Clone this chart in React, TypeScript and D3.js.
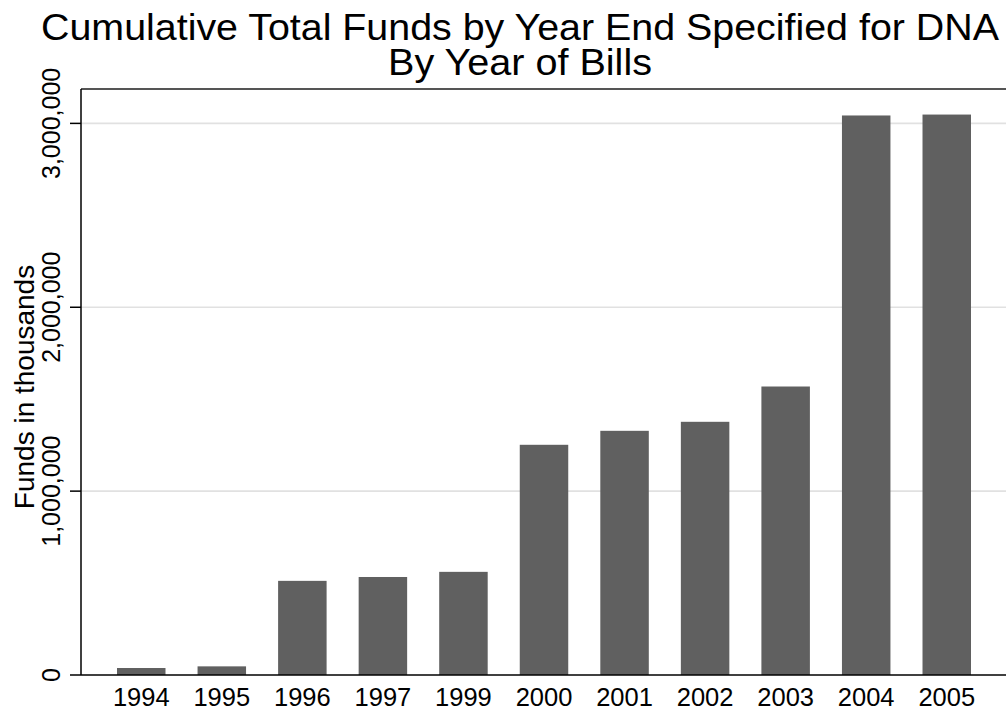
import React from "react";
import * as d3 from "d3";

const years = ["1994", "1995", "1996", "1997", "1999", "2000", "2001", "2002", "2003", "2004", "2005"];
const funds = [38000, 47000, 512000, 533000, 561000, 1252000, 1328000, 1377000, 1569000, 3043000, 3048000];
const yTicks = [0, 1000000, 2000000, 3000000];
const titleLines = ["Cumulative Total Funds by Year End Specified for DNA", "By Year of Bills"];
const yTitle = "Funds in thousands";

const W = 1006;
const H = 715;
const left = 81;
const right = 1007;
const top = 89;
const bottom = 675;

export default function App() {
  const x = d3.scaleBand<string>().domain(years).range([left, right]).paddingInner(0.398).paddingOuter(0.447);
  const y = d3.scaleLinear().domain([0, 3187000]).range([bottom, top]);
  const fmt = d3.format(",");
  const font = "Arial, 'Liberation Sans', Helvetica, sans-serif";
  return (
    <svg width={W} height={H} style={{ position: "absolute", left: 0, top: 0, background: "#fff" }} fontFamily={font}>
      <rect x={0} y={0} width={W} height={H} fill="#fff" />
      {yTicks.filter((t) => t > 0).map((t) => (
        <line key={"g" + t} x1={left} x2={W} y1={y(t)} y2={y(t)} stroke="#e1e1e1" strokeWidth={1.6} />
      ))}
      <line x1={left} x2={W} y1={top} y2={top} stroke="#555" strokeWidth={2} />
      {years.map((yr, i) => (
        <rect key={yr} x={x(yr)} y={y(funds[i])} width={x.bandwidth()} height={bottom - y(funds[i])} fill="#606060" />
      ))}
      <line x1={left} x2={left} y1={top} y2={bottom} stroke="#000" strokeWidth={1.5} />
      <line x1={left} x2={W} y1={bottom} y2={bottom} stroke="#000" strokeWidth={1.5} />
      {yTicks.map((t) => (
        <g key={"t" + t}>
          <line x1={70} x2={left} y1={y(t)} y2={y(t)} stroke="#000" strokeWidth={1.5} />
          <text transform={`translate(60,${y(t)}) rotate(-90)`} textAnchor="middle" fontSize={25} fill="#000">
            {fmt(t)}
          </text>
        </g>
      ))}
      {years.map((yr) => (
        <text key={"x" + yr} x={(x(yr) as number) + x.bandwidth() / 2} y={706} textAnchor="middle" fontSize={25.5} fill="#000">
          {yr}
        </text>
      ))}
      <text transform={`translate(34,${(top + bottom) / 2 + 5}) rotate(-90)`} textAnchor="middle" fontSize={28} fill="#000">
        {yTitle}
      </text>
      <text x={520} y={40} textAnchor="middle" fontSize={36} fill="#000" textLength={958} lengthAdjust="spacingAndGlyphs">
        {titleLines[0]}
      </text>
      <text x={520} y={75} textAnchor="middle" fontSize={36} fill="#000" textLength={264} lengthAdjust="spacingAndGlyphs">
        {titleLines[1]}
      </text>
    </svg>
  );
}
